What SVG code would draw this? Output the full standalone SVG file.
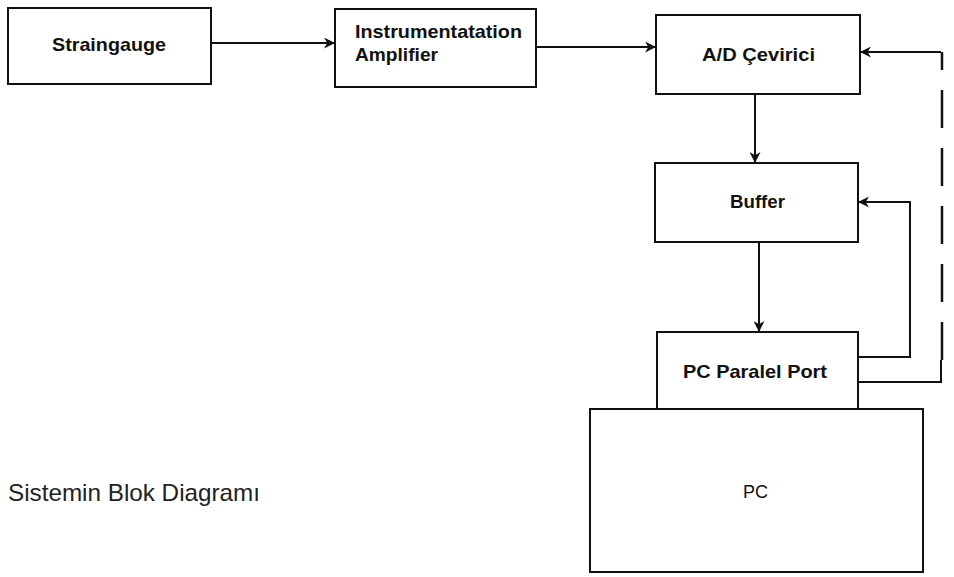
<svg xmlns="http://www.w3.org/2000/svg" width="954" height="577" viewBox="0 0 954 577">
<defs>
<marker id="ah" viewBox="0 0 10 10" refX="10" refY="5" markerWidth="11" markerHeight="11" markerUnits="userSpaceOnUse" orient="auto">
<path d="M0,0 L10,5 L0,10 L3,5 Z" fill="#111"/>
</marker>
</defs>
<style>
.box{fill:#fff;stroke:#111;stroke-width:2}
.lbl{font-family:"Liberation Sans",Arial,sans-serif;font-size:18.5px;font-weight:bold;fill:#111}
.lblr{font-family:"Liberation Sans",Arial,sans-serif;font-size:18px;fill:#111}
.con{fill:none;stroke:#111;stroke-width:2}
.dash{fill:none;stroke:#111;stroke-width:2.5;stroke-dasharray:38 20}
</style>
<rect width="954" height="577" fill="#fff"/>
<g id="straingauge">
<rect class="box" x="8" y="8" width="203" height="76"/>
<text class="lbl" x="52" y="51" textLength="114" lengthAdjust="spacingAndGlyphs">Straingauge</text>
</g>
<g id="amplifier">
<rect class="box" x="335" y="9" width="201" height="78"/>
<text class="lbl" x="355" y="38" textLength="167" lengthAdjust="spacingAndGlyphs">Instrumentatation</text>
<text class="lbl" x="355" y="61" textLength="83" lengthAdjust="spacingAndGlyphs">Amplifier</text>
</g>
<g id="adc">
<rect class="box" x="656" y="15" width="204" height="79"/>
<text class="lbl" x="702" y="61" textLength="113" lengthAdjust="spacingAndGlyphs">A/D Çevirici</text>
</g>
<g id="buffer">
<rect class="box" x="655" y="163" width="203" height="79"/>
<text class="lbl" x="730" y="208" textLength="55" lengthAdjust="spacingAndGlyphs">Buffer</text>
</g>
<g id="pc">
<rect class="box" x="590" y="409" width="333" height="163"/>
<text class="lblr" x="743" y="498" textLength="25" lengthAdjust="spacingAndGlyphs">PC</text>
</g>
<g id="parallel-port">
<rect class="box" x="657" y="332" width="201" height="77"/>
<text class="lbl" x="683" y="378" textLength="144" lengthAdjust="spacingAndGlyphs">PC Paralel Port</text>
</g>
<g id="connectors">
<line class="con" x1="211" y1="43" x2="335" y2="43" marker-end="url(#ah)"/>
<line class="con" x1="536" y1="47" x2="656" y2="47" marker-end="url(#ah)"/>
<line class="con" x1="755" y1="94" x2="755" y2="163" marker-end="url(#ah)"/>
<line class="con" x1="759" y1="242" x2="759" y2="332" marker-end="url(#ah)"/>
<polyline class="con" points="858,357 910,357 910,202 858,202" marker-end="url(#ah)"/>
<polyline class="con" points="858,382 941,382 941,360"/>
<line class="dash" x1="942" y1="360" x2="942" y2="52"/>
<polyline class="con" points="941,52 860,52" marker-end="url(#ah)"/>
</g>
<text x="8" y="501" font-family="'Liberation Sans',Arial,sans-serif" font-size="24" fill="#222" textLength="252" lengthAdjust="spacingAndGlyphs">Sistemin Blok Diagramı</text>
</svg>
